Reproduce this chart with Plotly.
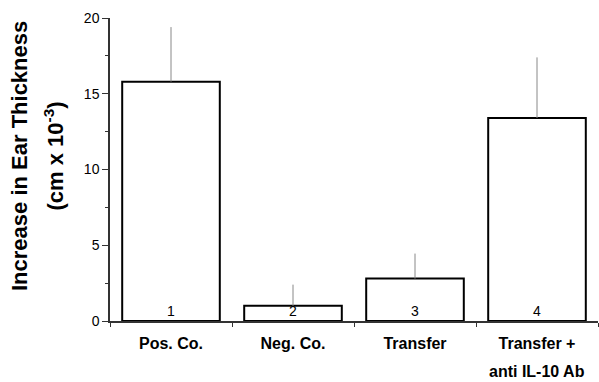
import plotly.graph_objects as go

categories = ["Pos. Co.", "Neg. Co.", "Transfer", "Transfer +"]
second_line_labels = ["", "", "", "anti IL-10 Ab"]
group_numbers = ["1", "2", "3", "4"]
means = [15.8, 1.0, 2.8, 13.4]
errors_plus = [3.6, 1.4, 1.65, 4.0]
y_ticks = [0, 5, 10, 15, 20]

FONT = "Arial, Liberation Sans, sans-serif"
xs = list(range(len(categories)))

fig = go.Figure()
fig.add_trace(go.Bar(
    x=xs, y=means, width=0.8,
    marker=dict(color="white", line=dict(color="black", width=2)),
    error_y=dict(type="data", array=errors_plus, arrayminus=[0] * len(means),
                 symmetric=False, color="#888888", thickness=1, width=0),
    showlegend=False,
))

for x, t in zip(xs, group_numbers):
    fig.add_annotation(x=x, y=0, xref="x", yref="y", text=t, showarrow=False,
                       yanchor="bottom", yshift=0,
                       font=dict(family=FONT, size=14, color="black"))

for x, t in zip(xs, second_line_labels):
    if t:
        fig.add_annotation(x=x, y=0, xref="x", yref="paper", text="<b>%s</b>" % t,
                           showarrow=False, yanchor="middle", yshift=-50,
                           font=dict(family=FONT, size=16, color="black"))

fig.add_annotation(x=0, y=0.5, xref="paper", yref="paper", xshift=-105, yshift=13,
                   text="<b>Increase in Ear Thickness</b>", textangle=-90,
                   showarrow=False, font=dict(family=FONT, size=22, color="black"))
fig.add_annotation(x=0, y=0.5, xref="paper", yref="paper", xshift=-73, yshift=13,
                   text="<b>(cm x 10<sup>-3</sup>)</b>", textangle=-90,
                   showarrow=False, font=dict(family=FONT, size=22, color="black"))

fig.update_layout(
    width=599, height=382,
    margin=dict(l=110, r=1, t=18, b=61),
    plot_bgcolor="white", paper_bgcolor="white",
    font=dict(family=FONT, color="black"),
    xaxis=dict(range=[-0.5, 3.5], showline=True, linecolor="#333333", linewidth=1.5,
               tickvals=xs, ticktext=["<b>%s</b>" % c for c in categories],
               ticks="", showgrid=False, zeroline=False, ticklabelstandoff=7,
               tickfont=dict(family=FONT, size=16, color="black"),
               minor=dict(tick0=-0.5, dtick=1, ticks="outside", ticklen=4,
                          tickcolor="#333333", showgrid=False)),
    yaxis=dict(range=[0, 20], showline=True, linecolor="#333333", linewidth=1.5,
               tickvals=y_ticks, ticks="outside", ticklen=6, tickcolor="#333333",
               showgrid=False, zeroline=False,
               tickfont=dict(family=FONT, size=14, color="black"),
               minor=dict(dtick=2.5, ticks="outside", ticklen=3,
                          tickcolor="#333333", showgrid=False)),
)

fig.write_html("out.html", config={"displayModeBar": False},
               post_script="document.body.style.margin='0';")
